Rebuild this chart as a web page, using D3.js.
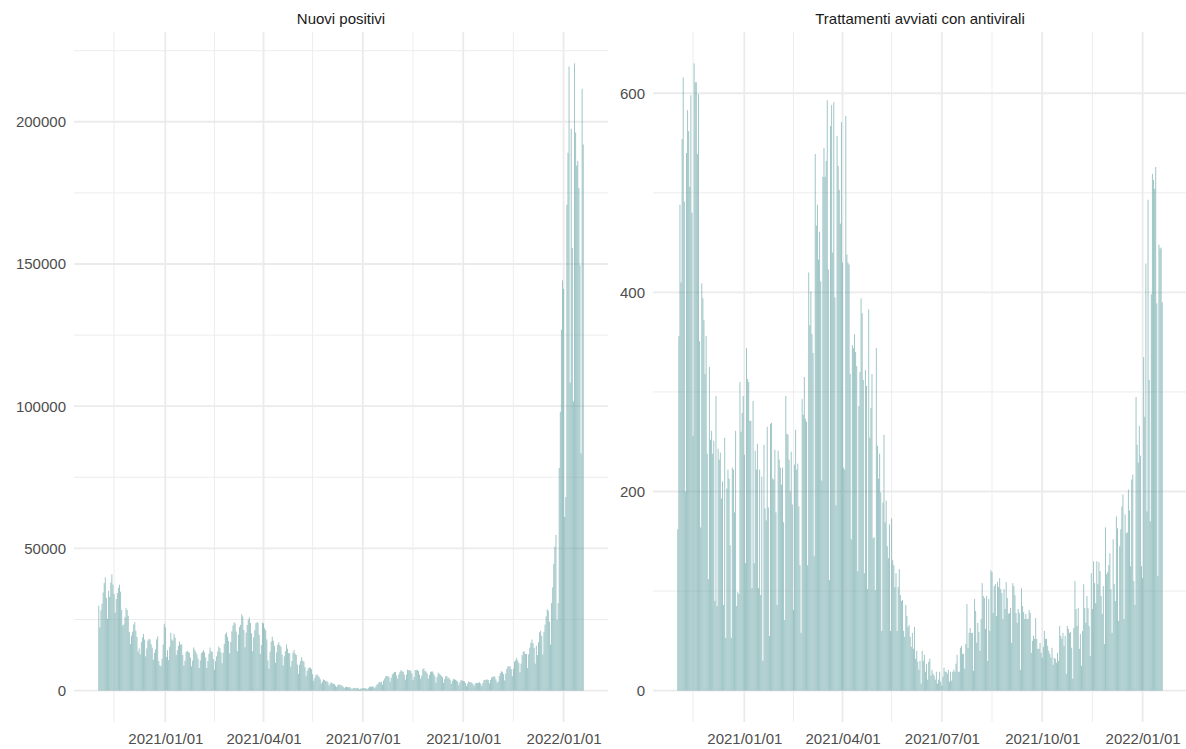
<!DOCTYPE html>
<html>
<head>
<meta charset="utf-8">
<script src="https://cdn.jsdelivr.net/npm/d3@7"></script>
<style>
  body { margin: 0; background: #fff; }
  text { font-family: "Liberation Sans", Arial, sans-serif; }
</style>
</head>
<body>
<svg id="chart" width="1186" height="749"></svg>
<script>
// first day of both series, one value per day
const startDate = "2020-11-01"

const titles = ["Nuovi positivi", "Trattamenti avviati con antivirali"]

const xTickDates = ["2021-01-01", "2021-04-01", "2021-07-01", "2021-10-01", "2022-01-01"]
const xMinorDates = ["2020-11-15", "2021-02-15", "2021-05-16", "2021-08-16", "2021-11-16"]

const yTicksPositivi = [0, 50000, 100000, 150000, 200000]
const yMinorPositivi = [25000, 75000, 125000, 175000, 225000]
const yTicksAntivirali = [0, 200, 400, 600]
const yMinorAntivirali = [100, 300, 500]

const nuoviPositivi = [
  // nov 2020
  29907, 22253, 28244, 30550, 34505, 37809, 39811, 32616, 25271, 35098,
  32961, 37978, 40902, 37255, 33979, 27354, 32191, 34283, 36176, 37242,
  34767, 28337, 22930, 23232, 25853, 29003, 28352, 26323, 20648, 16377,
  // dic 2020
  19350, 20709, 23225, 24099, 21052, 18887, 13720, 14842, 12756, 16999,
  18727, 19903, 17938, 12030, 14844, 17572, 18236, 17992, 16308, 15104,
  10872, 13318, 14522, 18040, 19037, 10407, 8913, 8585, 11212, 16202, 23477,
  // gen 2021
  22211, 11831, 14245, 10800, 15378, 20331, 18020, 17533, 19978, 18627,
  12532, 14242, 15774, 17246, 16146, 16310, 12545, 8824, 10497, 13571,
  14078, 13633, 13331, 11629, 8561, 10593, 15204, 14372, 13574, 12715, 11252,
  // feb 2021
  7925, 10630, 13189, 13659, 14218, 13442, 11641, 7970, 10386, 12956,
  15146, 13908, 13532, 11068, 7351, 10386, 12074, 13762, 15479, 14931,
  13452, 9630, 13314, 16424, 19886, 20499, 18916, 17455,
  // mar 2021
  13114, 17083, 20884, 22865, 24036, 23641, 20765, 13902, 19749, 22409,
  23135, 26824, 26062, 21315, 15267, 20396, 23059, 24935, 25735, 23832,
  20159, 13846, 18765, 21267, 23696, 24076, 23839, 19611, 12916, 16017, 23904,
  // apr 2021
  23649, 21932, 21261, 18025, 10680, 7767, 13708, 17221, 18938, 17567,
  15746, 9789, 13447, 16168, 16974, 15943, 15370, 12694, 8864, 12074,
  13844, 16232, 14761, 13176, 13158, 8444, 10404, 13385, 14320, 12965,
  // mag 2021
  12545, 9148, 5948, 9116, 10404, 11807, 10554, 10176, 8292, 5080,
  6946, 7852, 8085, 8084, 7567, 5753, 3455, 4452, 5506, 5741,
  5218, 4717, 3995, 2490, 3224, 3937, 3738, 3351, 3351, 2949, 1820,
  // giu 2021
  2483, 2897, 2557, 2436, 2275, 1717, 1273, 1896, 2199, 2079,
  1901, 1723, 1390, 907, 1255, 1400, 1197, 1197, 1273, 881,
  495, 835, 951, 927, 753, 1011, 778, 389, 679, 776,
  // lug 2021
  882, 808, 932, 808, 480, 907, 1394, 1390, 1394, 1400,
  1391, 888, 1553, 2153, 2455, 3127, 2898, 3121, 2072, 3558,
  4259, 5057, 5143, 5140, 4743, 3117, 4522, 5696, 6171, 6513, 6599,
  // ago 2021
  5321, 4200, 5735, 6596, 7230, 6838, 6599, 5676, 3845, 5636,
  7409, 7162, 7188, 6959, 6078, 3675, 4845, 7260, 7224, 7340,
  6882, 5664, 4168, 5273, 7548, 7826, 6860, 6735, 5959, 4257, 5498,
  // set 2021
  6503, 6761, 6735, 5958, 5115, 2800, 4720, 6285, 5923, 5621,
  5193, 4664, 2800, 4021, 5117, 5115, 4361, 4578, 3797, 2407,
  3377, 4061, 3970, 3797, 3525, 3212, 1929, 2962, 3804, 3525,
  // ott 2021
  3405, 3312, 2748, 1612, 2466, 3235, 2997, 2983, 2764, 2278,
  1597, 2494, 2772, 2668, 2732, 2983, 2437, 1597, 2697, 3702,
  3794, 3882, 3908, 3725, 2535, 3728, 4598, 4866, 5025, 4924, 3910,
  // nov 2021
  2818, 3166, 5188, 6134, 6839, 6500, 5822, 3603, 6032, 7698,
  8569, 8516, 8544, 7569, 5144, 7698, 10172, 10638, 11555, 10544,
  9709, 6404, 9503, 12448, 13764, 13686, 12877, 12932, 7975, 12764,
  // dic 2021
  15085, 16806, 17959, 16632, 15021, 9503, 15756, 12527, 17012, 20497,
  21042, 19215, 12712, 20677, 23195, 26109, 28632, 28064, 24259, 16213,
  30798, 36293, 44595, 50599, 54762, 24883, 30810, 78313, 98030, 126888, 144243,
  // gen 2022
  141262, 61046, 68052, 170844, 189109, 219441, 108304, 197552, 155659, 101762,
  220532, 196224, 184615, 186253, 176700, 149512, 83403, 211600, 192000
]

const antivirali = [
  // nov 2020 - apr 2021
  162, 356, 488, 410, 554, 616, 491, 200, 540, 583,
  562, 506, 598, 480, 256, 630, 611, 611, 539, 599,
  351, 164, 409, 394, 372, 318, 356, 238, 112, 325,
  252, 261, 238, 251, 90, 296, 85, 243, 232, 239,
  193, 210, 86, 254, 53, 203, 222, 213, 146, 53,
  224, 222, 179, 261, 85, 99, 97, 310, 260, 279,
  296, 237, 128, 344, 313, 310, 271, 271, 103, 291,
  128, 241, 222, 248, 103, 222, 96, 215, 30, 247,
  183, 171, 265, 184, 55, 268, 269, 213, 212, 242,
  179, 86, 241, 232, 224, 207, 224, 169, 71, 296,
  258, 257, 232, 200, 240, 187, 81, 227, 262, 222,
  228, 185, 126, 58, 293, 277, 315, 273, 270, 126,
  420, 367, 401, 358, 339, 135, 539, 467, 488, 433,
  461, 411, 211, 516, 545, 516, 532, 593, 423, 111,
  567, 588, 440, 591, 395, 186, 557, 527, 503, 469,
  571, 430, 224, 222, 577, 438, 430, 428, 318, 152,
  347, 344, 358, 340,
  // apr 2021 - lug 2021
  326, 120, 286, 320, 394, 379, 312, 118, 322, 306,
  102, 383, 254, 284, 318, 153, 154, 101, 344, 246,
  213, 238, 199, 60, 189, 257, 169, 191, 145, 133,
  167, 60, 173, 131, 126, 104, 118, 60, 104, 122,
  96, 90, 91, 60, 54, 86, 75, 64, 66, 54,
  44, 58, 42, 64, 32, 40, 29, 21, 30, 7,
  40, 30, 36, 19, 27, 11, 29, 32, 15, 21,
  17, 15, 11, 19, 7, 11, 19, 9, 5, 14,
  23, 19, 19, 17, 21, 9, 19, 10, 19, 21,
  19, 27, 36, 19,
  // lug 2021 - dic 2021
  19, 43, 45, 37, 37, 22, 47, 87, 43, 58,
  63, 58, 58, 20, 92, 80, 48, 68, 59, 40,
  72, 108, 95, 93, 62, 95, 30, 92, 60, 121,
  119, 78, 105, 107, 75, 109, 104, 113, 102, 98,
  72, 102, 82, 109, 93, 77, 78, 83, 48, 108,
  105, 96, 78, 68, 82, 78, 21, 103, 85, 79,
  72, 77, 72, 72, 81, 78, 38, 50, 55, 52,
  73, 52, 42, 42, 48, 38, 33, 44, 60, 52,
  52, 45, 40, 37, 33, 43, 26, 33, 32, 28,
  38, 30, 65, 55, 52, 58, 45, 55, 17, 65,
  62, 58, 59, 43, 12, 63, 110, 82, 65, 83,
  42, 57, 25, 60, 107, 83, 68, 95, 83, 65,
  35, 118, 82, 130, 108, 88, 130, 107, 129, 120,
  95, 77, 105, 47, 164, 117, 119, 126, 138, 102,
  58, 152, 107, 90, 175, 163, 70, 145, 162, 185,
  197, 72, 177, 158, 159, 202, 181, 125, 212, 217,
  110, 86,
  // dic 2021 - gen 2022
  295, 247, 229, 266, 236, 125, 113, 335, 275, 429,
  180, 493, 312, 170, 398, 519, 513, 504, 526, 389,
  115, 448, 444, 445, 390
]

const svg = d3.select("#chart")
const panelTop = 32, panelBottom = 722
const gridColor = "#EBEBEB"
const barColor = "cadetblue"
const day = 864e5
const parse = d3.utcParse("%Y-%m-%d")
const fmt = d3.utcFormat("%Y/%m/%d")
const start = parse(startDate)

function drawPanel(values, x0, x1, title, yTicks, yMinor) {
  const data = values.map((v, i) => ({ date: d3.utcDay.offset(start, i), value: v }))

  // data range plus bar half-widths, then 5% expansion like ggplot
  const lo = +data[0].date - 0.45 * day
  const hi = +data[data.length - 1].date + 0.45 * day
  const pad = (hi - lo) * 0.05
  const x = d3.scaleUtc().domain([new Date(lo - pad), new Date(hi + pad)]).range([x0, x1])

  const max = d3.max(values)
  const y = d3.scaleLinear().domain([-0.05 * max, 1.05 * max]).range([panelBottom, panelTop])

  const g = svg.append("g")

  // minor grid
  g.append("g").selectAll("line").data(xMinorDates).join("line")
    .attr("x1", d => x(parse(d))).attr("x2", d => x(parse(d)))
    .attr("y1", panelTop).attr("y2", panelBottom)
    .attr("stroke", gridColor).attr("stroke-width", 0.9)
  g.append("g").selectAll("line").data(yMinor).join("line")
    .attr("x1", x0).attr("x2", x1)
    .attr("y1", d => y(d)).attr("y2", d => y(d))
    .attr("stroke", gridColor).attr("stroke-width", 0.9)

  // major grid
  g.append("g").selectAll("line").data(xTickDates).join("line")
    .attr("x1", d => x(parse(d))).attr("x2", d => x(parse(d)))
    .attr("y1", panelTop).attr("y2", panelBottom)
    .attr("stroke", gridColor).attr("stroke-width", 1.8)
  g.append("g").selectAll("line").data(yTicks).join("line")
    .attr("x1", x0).attr("x2", x1)
    .attr("y1", d => y(d)).attr("y2", d => y(d))
    .attr("stroke", gridColor).attr("stroke-width", 1.8)

  // bars
  g.append("g").selectAll("rect").data(data).join("rect")
    .attr("x", d => x(+d.date - 0.45 * day))
    .attr("width", d => x(+d.date + 0.45 * day) - x(+d.date - 0.45 * day))
    .attr("y", d => y(d.value))
    .attr("height", d => y(0) - y(d.value))
    .attr("fill", barColor)
    .attr("fill-opacity", 0.6)

  // axes
  const yAxis = d3.axisLeft(y).tickValues(yTicks).tickSize(0).tickPadding(8).tickFormat(d3.format("d"))
  g.append("g").attr("transform", `translate(${x0},0)`).call(yAxis)
    .call(a => a.select(".domain").remove())
    .attr("font-family", "Liberation Sans, Arial, sans-serif")
    .attr("font-size", 15)
    .selectAll("text").attr("fill", "#4D4D4D")

  const xAxis = d3.axisBottom(x).tickValues(xTickDates.map(parse)).tickSize(0).tickPadding(11).tickFormat(fmt)
  g.append("g").attr("transform", `translate(0,${panelBottom})`).call(xAxis)
    .call(a => a.select(".domain").remove())
    .attr("font-family", "Liberation Sans, Arial, sans-serif")
    .attr("font-size", 15)
    .selectAll("text").attr("fill", "#4D4D4D")

  // strip title
  g.append("text")
    .attr("x", (x0 + x1) / 2).attr("y", 24)
    .attr("text-anchor", "middle")
    .attr("font-size", 15)
    .attr("fill", "#1A1A1A")
    .text(title)
}

drawPanel(nuoviPositivi, 74, 608, titles[0], yTicksPositivi, yMinorPositivi)
drawPanel(antivirali, 653, 1187, titles[1], yTicksAntivirali, yMinorAntivirali)
</script>
</body>
</html>
